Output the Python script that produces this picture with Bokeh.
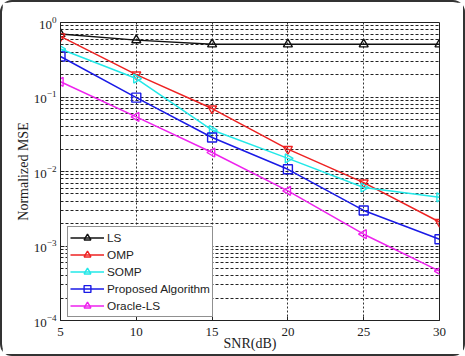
import math
from bokeh.plotting import figure
from bokeh.models import Range1d, FixedTicker, Legend, LegendItem
from bokeh.embed import file_html
from bokeh.resources import INLINE

# SNR points and normalized MSE of each estimator
snr_db = [5, 10, 15, 20, 25, 30]
mse_ls = [0.70, 0.58, 0.51, 0.51, 0.51, 0.51]
mse_omp = [0.65, 0.20, 0.070, 0.020, 0.0071, 0.0021]
mse_somp = [0.44, 0.177, 0.036, 0.015, 0.0061, 0.0045]
mse_proposed = [0.35, 0.098, 0.0286, 0.0107, 0.0030, 0.00123]
mse_oracle = [0.16, 0.054, 0.018, 0.0055, 0.00144, 0.00046]

x_ticks = [5, 10, 15, 20, 25, 30]
y_decades = [1e-4, 1e-3, 1e-2, 1e-1, 1e0]

series = [
    ("LS", mse_ls, "#111111", "triangle", 0.0),
    ("OMP", mse_omp, "#ee2222", "triangle", math.pi),
    ("SOMP", mse_somp, "#22e8e8", "triangle", -math.pi / 2),
    ("Proposed Algorithm", mse_proposed, "#1a1ae6", "square", 0.0),
    ("Oracle-LS", mse_oracle, "#ee22ee", "triangle", math.pi / 2),
]

minor = [m * d for d in y_decades[:-1] for m in range(2, 10)]

p = figure(width=465, height=356, y_axis_type="log",
           x_range=Range1d(5, 30), y_range=Range1d(1e-4, 1),
           output_backend="svg", toolbar_location=None,
           min_border_left=58, min_border_right=28,
           min_border_top=20, min_border_bottom=38)
p.background_fill_color = "white"
p.border_fill_color = "white"
p.outline_line_color = "#222222"
p.outline_line_width = 1

p.xaxis.ticker = FixedTicker(ticks=x_ticks)
p.yaxis.ticker = FixedTicker(ticks=y_decades, minor_ticks=minor)

for ax in (p.xaxis[0], p.yaxis[0]):
    ax.major_label_text_font = "Liberation Serif"
    ax.major_label_text_font_size = "13px"
    ax.major_label_text_color = "#222222"
    ax.axis_label_text_font = "Liberation Serif"
    ax.axis_label_text_font_size = "14px"
    ax.axis_label_text_font_style = "normal"
    ax.axis_label_text_color = "#222222"
    ax.axis_line_color = "#222222"
    ax.major_tick_in = 4
    ax.major_tick_out = 0
    ax.minor_tick_in = 2
    ax.minor_tick_out = 0
    ax.major_tick_line_color = "#222222"
    ax.minor_tick_line_color = "#222222"

p.xaxis.axis_label = "SNR(dB)"
p.yaxis.axis_label = "Normalized MSE"
p.xaxis.major_label_standoff = 7
p.xaxis.axis_label_standoff = -3
p.yaxis.major_label_standoff = 4
p.yaxis.axis_label_standoff = 0

p.xgrid.ticker = FixedTicker(ticks=x_ticks)
p.xgrid.grid_line_color = "#333333"
p.xgrid.grid_line_dash = "2 2"
p.xgrid.grid_line_width = 1
p.ygrid.grid_line_color = "#222222"
p.ygrid.grid_line_dash = "3 2"
p.ygrid.grid_line_width = 1
p.ygrid.minor_grid_line_color = "#222222"
p.ygrid.minor_grid_line_dash = "3 2"
p.ygrid.minor_grid_line_width = 1

items = []
for name, vals, color, marker, ang in series:
    lr = p.line(snr_db, vals, line_color=color, line_width=1.5)
    sr = p.scatter(snr_db, vals, marker=marker, angle=ang, size=9,
                   line_color=color, line_width=1.4, fill_color=None)
    items.append(LegendItem(label=name, renderers=[lr, sr]))

legend = Legend(items=items, location=(7, 3))
legend.label_text_font = "Liberation Sans"
legend.label_text_font_size = "11.8px"
legend.label_text_color = "#222222"
legend.glyph_width = 34
legend.label_standoff = 3
legend.spacing = 0
legend.label_height = 17
legend.glyph_height = 17
legend.padding = 2
legend.margin = 0
legend.border_line_color = "#222222"
legend.border_line_width = 1
legend.background_fill_alpha = 1
p.add_layout(legend)

p.styles = {"border": "2px solid #333333", "border-radius": "12px",
            "box-sizing": "border-box"}

open("out.html", "w").write(file_html(p, INLINE))
